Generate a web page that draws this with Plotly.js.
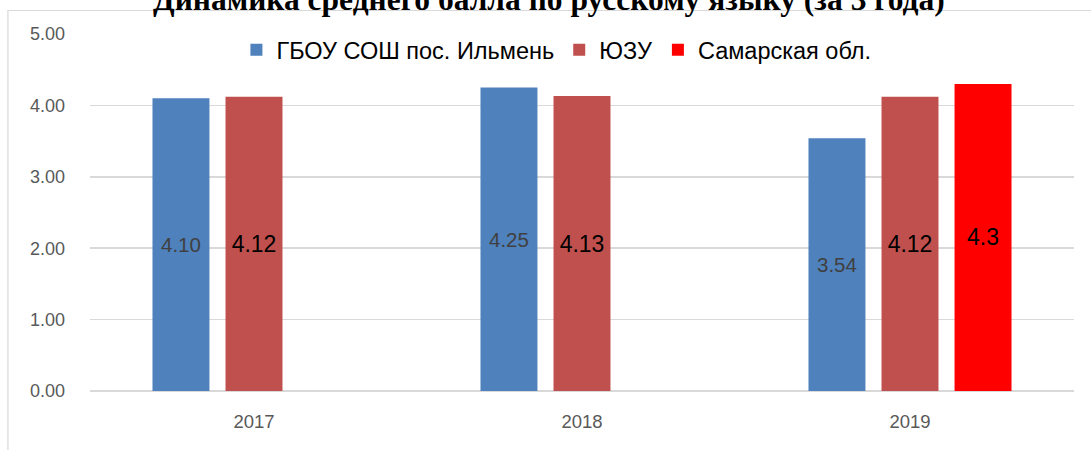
<!DOCTYPE html>
<html>
<head>
<meta charset="utf-8">
<script src="https://cdn.plot.ly/plotly-3.0.1.min.js"></script>
<style>html,body{margin:0;padding:0;background:#fff;}#chart{width:1091px;height:450px;}</style>
</head>
<body>
<div id="chart"></div>
<script>
var years = ['2017', '2018', '2019'];
var seriesNames = ['ГБОУ СОШ пос. Ильмень', 'ЮЗУ', 'Самарская обл.'];
var schoolValues = [4.10, 4.25, 3.54];
var uniValues = [4.12, 4.13, 4.12];
var regionValues = [null, null, 4.3];
var titleText = 'Динамика среднего балла по русскому языку (за 3 года)';

var baseFont = 'Liberation Sans, Arial, sans-serif';

var traces = [
  {
    type: 'bar', name: seriesNames[0], x: years, y: schoolValues,
    marker: {color: '#4f81bd'},
    texttemplate: '%{y:.2f}', textposition: 'inside', insidetextanchor: 'middle',
    textfont: {family: baseFont, size: 20.5, color: '#404040'},
    hoverinfo: 'none'
  },
  {
    type: 'bar', name: seriesNames[1], x: years, y: uniValues,
    marker: {color: '#c0504d'},
    texttemplate: '%{y:.2f}', textposition: 'inside', insidetextanchor: 'middle',
    textfont: {family: baseFont, size: 23, color: '#000000'},
    hoverinfo: 'none'
  },
  {
    type: 'bar', name: seriesNames[2], x: years, y: regionValues,
    marker: {color: '#ff0000'},
    texttemplate: '%{y:.1f}', textposition: 'inside', insidetextanchor: 'middle',
    textfont: {family: baseFont, size: 23, color: '#000000'},
    hoverinfo: 'none'
  }
];

var layout = {
  width: 1091, height: 450,
  margin: {l: 90, r: 17, t: 34, b: 59},
  paper_bgcolor: '#ffffff', plot_bgcolor: '#ffffff',
  barmode: 'group', bargap: 0.332, bargroupgap: 0.22,
  showlegend: true,
  legend: {
    orientation: 'h', x: 0.474, xanchor: 'center', y: 0.955, yanchor: 'middle',
    font: {family: baseFont, size: 23.5, color: '#000'},
    bgcolor: 'rgba(255,255,255,0)', itemwidth: 30, traceorder: 'normal'
  },
  xaxis: {
    type: 'category', showgrid: false, zeroline: false, showline: false,
    ticks: '', tickfont: {family: baseFont, size: 18.5, color: '#595959'},
    ticklabelstandoff: 17
  },
  yaxis: {
    range: [0, 5], dtick: 1, tickformat: '.2f',
    showgrid: true, gridcolor: '#d9d9d9', gridwidth: 1.5,
    zeroline: true, zerolinecolor: '#d9d9d9', zerolinewidth: 1.5,
    showline: false, ticks: '',
    tickfont: {family: baseFont, size: 18, color: '#595959'},
    ticklabelstandoff: 24
  },
  annotations: [{
    text: '<b>' + titleText + '</b>',
    font: {family: 'Liberation Serif, Times New Roman, serif', size: 31.5, color: '#000'},
    xref: 'paper', yref: 'paper', x: 0.466, y: 1.042, xanchor: 'center', yanchor: 'bottom',
    showarrow: false
  }],
  shapes: [{
    type: 'rect', xref: 'paper', yref: 'paper',
    x0: -0.0834, x1: 1.03, y0: -0.2, y1: 1.0658,
    line: {color: '#d9d9d9', width: 1.2}, fillcolor: 'rgba(0,0,0,0)', layer: 'below'
  }]
};

Plotly.newPlot('chart', traces, layout, {displayModeBar: false, staticPlot: true});
</script>
</body>
</html>
